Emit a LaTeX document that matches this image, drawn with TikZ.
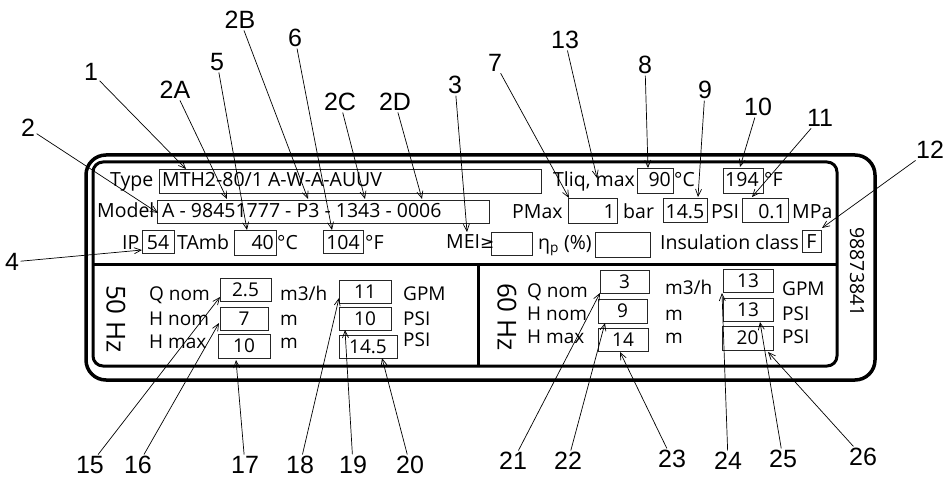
\documentclass[tikz,border=0pt]{standalone}
\usepackage{fontspec}
\setmainfont{Open Sans}
\newfontfamily\labfont{Liberation Sans}
\newfontfamily\symfont{DejaVu Sans}
\usetikzlibrary{arrows.meta}
\tikzset{
  outerplate/.style={line width=3.5pt, rounded corners=20pt},
  innerplate/.style={line width=3pt, rounded corners=10pt},
  divider/.style={line width=3pt},
  vbox/.style={draw=black!85, line width=0.8pt, inner sep=0pt},
  ptxt/.style={font=\fontsize{19.5}{19.5}\selectfont, inner sep=0pt},
  qtxt/.style={font=\fontsize{19}{19}\selectfont, inner sep=0pt},
  hztxt/.style={font=\fontsize{26}{26}\selectfont, inner sep=0pt, rotate=-90},
  lab/.style={font=\labfont\fontsize{25}{25}\selectfont, inner sep=1.5pt},
  lead/.style={line width=0.7pt, -{Straight Barb[length=7pt,width=6pt]}}
}
\newcommand\vbx[5]{\node[vbox, minimum width={(#4-#2)*1pt}, minimum height={(#5-#3)*1pt}] (#1) at ({(#2+#4)/2},{(#3+#5)/2}) {};}
\begin{document}
\begin{tikzpicture}[x=1pt,y=-1pt]
\useasboundingbox (0,0) rectangle (952,478);
% plate
\draw[outerplate] (86,155) rectangle (875,380);
\draw[innerplate] (93,162) rectangle (837,366);
\coordinate (dl) at (93,264); \coordinate (dr) at (837,264);
\coordinate (vt) at (478,264); \coordinate (vb) at (478,366);
\draw[divider] (dl) -- (dr);
\draw[divider] (vt) -- (vb);
% boxes top
\vbx{bType}{159}{169}{541}{193}
\vbx{b90}{637}{168}{673}{193}
\vbx{b194}{723}{168}{763}{193}
\vbx{bModel}{157}{200}{489}{223}
\vbx{b1}{568}{198}{617}{223}
\vbx{b145}{663}{198}{707}{222}
\vbx{b01}{742}{198}{788}{222}
\vbx{b54}{142}{230}{174}{253}
\vbx{b40}{234}{230}{276}{255}
\vbx{b104}{323}{230}{363}{253}
\vbx{bMEI}{491}{232}{532}{255}
\vbx{beta}{595}{232}{650}{257}
\vbx{bF}{802}{230}{821}{252}
% boxes 50 Hz
\vbx{bq5}{220}{278}{271}{301}
\vbx{bhn5}{220}{307}{268}{330}
\vbx{bhm5}{218}{334}{270}{358}
\vbx{bg5}{339}{280}{391}{303}
\vbx{bp5}{339}{307}{391}{330}
\vbx{bpm5}{339}{335}{397}{358}
% boxes 60 Hz
\vbx{bq6}{600}{270}{649}{293}
\vbx{bhn6}{598}{299}{647}{323}
\vbx{bhm6}{598}{328}{648}{351}
\vbx{bg6}{723}{269}{773}{292}
\vbx{bp6}{723}{298}{773}{321}
\vbx{bpm6}{722}{326}{773}{350}
% row 1
\node[ptxt, anchor=base west] (tType) at (110,187) {Type};
\node[ptxt, anchor=base west] (vType) at (162,187) {MTH2-80/1 A-W-A-AUUV};
\node[ptxt, anchor=base west] (tTliq) at (553,187) {Tliq, max};
\node[ptxt, anchor=base east] (v90) at (671,187) {90};
\node[ptxt, anchor=base west] (u90) at (674,187) {°C};
\node[ptxt, anchor=base west] (v194) at (725,187) {194};
\node[ptxt, anchor=base west] (u194) at (764,187) {°F};
% row 2
\node[ptxt, anchor=base west] (tModel) at (97,218) {Model};
\node[ptxt, anchor=base west] (vModel) at (162,218) {A - 98451777 - P3 - 1343 - 0006};
\node[ptxt, anchor=base west] (tPMax) at (512,219) {PMax};
\node[ptxt, anchor=base east] (v1) at (615,219) {1};
\node[ptxt, anchor=base west] (ubar) at (623,219) {bar};
\node[ptxt, anchor=base] (v145) at (685,219) {14.5};
\node[ptxt, anchor=base west] (uPSI) at (711,219) {PSI};
\node[ptxt, anchor=base east] (v01) at (786,219) {0.1};
\node[ptxt, anchor=base west] (uMPa) at (792,219) {MPa};
% row 3
\node[ptxt, anchor=base west] (tIP) at (122,249) {IP};
\node[ptxt, anchor=base] (v54) at (158,249) {54};
\node[ptxt, anchor=base west] (tTAmb) at (177,249) {TAmb};
\node[ptxt, anchor=base east] (v40) at (274,250) {40};
\node[ptxt, anchor=base west] (u40) at (277,250) {°C};
\node[ptxt, anchor=base] (v104) at (343,249) {104};
\node[ptxt, anchor=base west] (u104) at (365,249) {°F};
\node[ptxt, anchor=base west] (tMEI) at (446,248) {MEI{\symfont\fontsize{17}{17}\selectfont ≥}};
\node[ptxt, anchor=base west] (teta) at (538,249) {η\textsubscript{p} (\%)};
\node[ptxt, anchor=base west] (tIns) at (660,249) {Insulation class};
\node[ptxt, anchor=base] (vF) at (811.5,248) {F};
% 50 Hz panel
\node[hztxt] (t50) at (116,319) {50 Hz};
\node[qtxt, anchor=base west] (tq5) at (149,300) {Q nom};
\node[qtxt, anchor=base west] (thn5) at (149,325) {H nom};
\node[qtxt, anchor=base west] (thm5) at (149,348) {H max};
\node[qtxt] at (bq5) {2.5};
\node[qtxt] at (bhn5) {7};
\node[qtxt] at (bhm5) {10};
\node[qtxt] at (bg5) {11};
\node[qtxt] at (bp5) {10};
\node[qtxt] at (bpm5) {14.5};
\node[qtxt, anchor=base west] (uq5) at (280,300) {m3/h};
\node[qtxt, anchor=base west] (uhn5) at (280,325) {m};
\node[qtxt, anchor=base west] (uhm5) at (280,348) {m};
\node[qtxt, anchor=base west] (ug5) at (403,300) {GPM};
\node[qtxt, anchor=base west] (up5) at (403,325) {PSI};
\node[qtxt, anchor=base west] (upm5) at (403,346) {PSI};
% 60 Hz panel
\node[hztxt] (t60) at (507,317) {60 Hz};
\node[qtxt, anchor=base west] (tq6) at (527,297) {Q nom};
\node[qtxt, anchor=base west] (thn6) at (527,320) {H nom};
\node[qtxt, anchor=base west] (thm6) at (527,343) {H max};
\node[qtxt] at (bq6) {3};
\node[qtxt] at (bhn6) {9};
\node[qtxt] at (bhm6) {14};
\node[qtxt] at (bg6) {13};
\node[qtxt] at (bp6) {13};
\node[qtxt] at (bpm6) {20};
\node[qtxt, anchor=base west] (uq6) at (665,294) {m3/h};
\node[qtxt, anchor=base west] (uhn6) at (665,320) {m};
\node[qtxt, anchor=base west] (uhm6) at (665,343) {m};
\node[qtxt, anchor=base west] (ug6) at (782,295) {GPM};
\node[qtxt, anchor=base west] (up6) at (782,320) {PSI};
\node[qtxt, anchor=base west] (upm6) at (782,343) {PSI};
% serial
\node[ptxt, rotate=-90] (serial) at (857,272) {98873841};
% labels
\node[lab] (L1) at (91,72) {1};
\node[lab] (L2) at (28,128) {2};
\node[lab] (L2A) at (175,90) {2A};
\node[lab] (L5) at (217,62) {5};
\node[lab] (L2B) at (240,20) {2B};
\node[lab] (L6) at (295,38) {6};
\node[lab] (L2C) at (340,102) {2C};
\node[lab] (L2D) at (395,102) {2D};
\node[lab] (L3) at (455,85) {3};
\node[lab] (L7) at (495,63) {7};
\node[lab] (L13) at (565,40) {13};
\node[lab] (L8) at (645,65) {8};
\node[lab] (L9) at (705,90) {9};
\node[lab] (L10) at (758,107) {10};
\node[lab] (L11) at (820,118) {11};
\node[lab] (L12) at (930,150) {12};
\node[lab] (L4) at (12,262) {4};
\node[lab] (L15) at (90,465) {15};
\node[lab] (L16) at (138,465) {16};
\node[lab] (L17) at (245,465) {17};
\node[lab] (L18) at (300,465) {18};
\node[lab] (L19) at (353,465) {19};
\node[lab] (L20) at (410,465) {20};
\node[lab] (L21) at (513,461) {21};
\node[lab] (L22) at (568,461) {22};
\node[lab] (L23) at (672,459) {23};
\node[lab] (L24) at (728,461) {24};
\node[lab] (L25) at (783,459) {25};
\node[lab] (L26) at (863,457) {26};
% tips
\coordinate (t1) at (186,169);
\coordinate (t2) at (158,213);
\coordinate (t2A) at (227,199);
\coordinate (t5) at (247,230);
\coordinate (t2B) at (308,199);
\coordinate (t6) at (332,230);
\coordinate (t2C) at (365,199);
\coordinate (t2D) at (422,199);
\coordinate (t3) at (467,232);
\coordinate (t7) at (569,198);
\coordinate (t13) at (597,178);
\coordinate (t8) at (648,168);
\coordinate (t9) at (698,197);
\coordinate (t10) at (740,167);
\coordinate (t11) at (752,197);
\coordinate (t12) at (822,228);
\coordinate (t4) at (142,250);
\coordinate (t15) at (220,297);
\coordinate (t16) at (219,323);
\coordinate (t17) at (236,360);
\coordinate (t18) at (339,298);
\coordinate (t19) at (345,330);
\coordinate (t20) at (382,358);
\coordinate (t21) at (600,293);
\coordinate (t22) at (605,323);
\coordinate (t23) at (620,352);
\coordinate (t24) at (722,293);
\coordinate (t25) at (760,322);
\coordinate (t26) at (768,352);
\foreach \n in {1,2,2A,5,2B,6,2C,2D,3,7,13,8,9,10,11,12,4,15,16,17,18,19,20,21,22,23,24,25,26}
  \draw[lead] (L\n) -- (t\n);
\end{tikzpicture}
\end{document}
